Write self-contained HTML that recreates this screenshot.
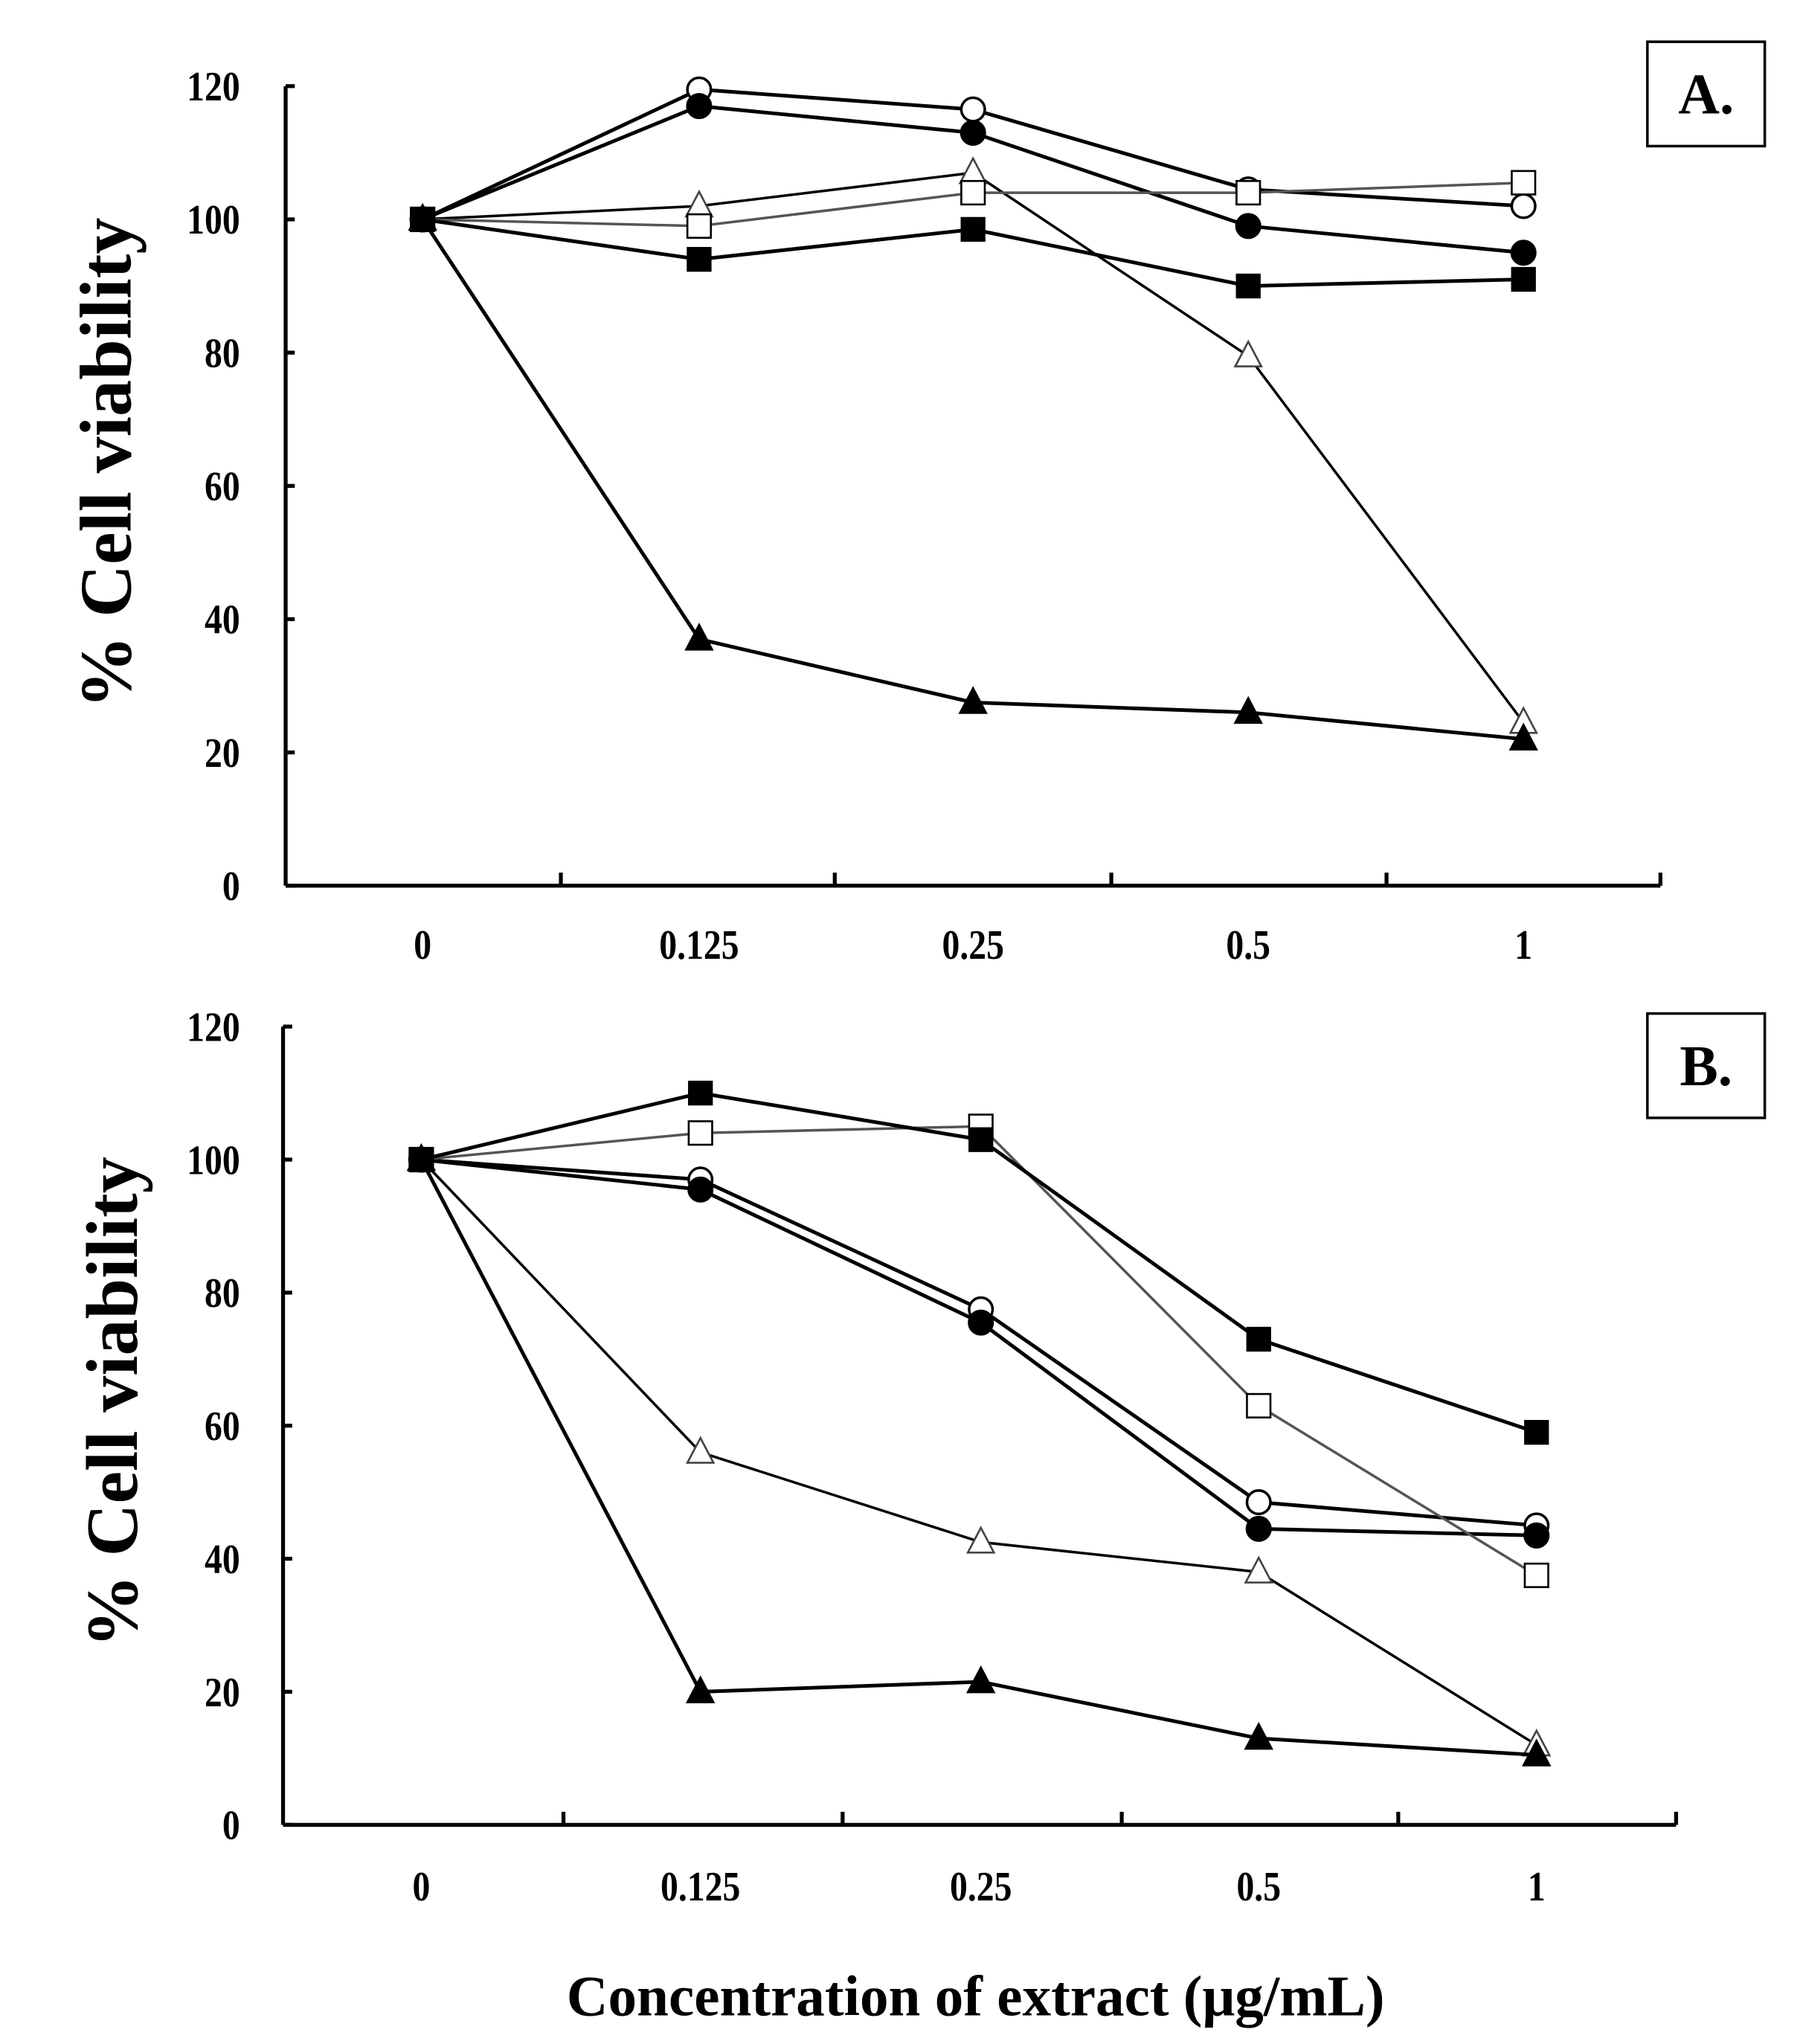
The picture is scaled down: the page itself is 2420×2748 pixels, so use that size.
<!DOCTYPE html>
<html><head><meta charset="utf-8"><style>
html,body{margin:0;padding:0;background:#fff}
svg{display:block}
text{font-family:"Liberation Serif",serif;font-weight:bold;fill:#000}
</style></head><body>
<svg id="chart" width="2420" height="2748" viewBox="0 0 1380 1567" xmlns="http://www.w3.org/2000/svg"></svg>
<script>
const categories = ["0","0.125","0.25","0.5","1"];
const yTicks = [0,20,40,60,80,100,120];
const seriesNames = ["open-circle","filled-circle","open-triangle","open-square","filled-square","filled-triangle"];
const aOpenCircle = [100,119.5,116.5,104.5,102];
const aFilledCircle = [100,117,113,99,95];
const aOpenTriangle = [100,102,107,79.5,24.5];
const aOpenSquare = [100,99,104,104,105.5];
const aFilledSquare = [100,94,98.5,90,91];
const aFilledTriangle = [100,37,27.5,26,22];
const bOpenCircle = [100,97,77.5,48.5,45];
const bFilledCircle = [100,95.5,75.5,44.5,43.5];
const bOpenTriangle = [100,56,42.5,38,12];
const bOpenSquare = [100,104,105,63,37.5];
const bFilledSquare = [100,110,103,73,59];
const bFilledTriangle = [100,20,21.5,13,10.5];

const NS="http://www.w3.org/2000/svg";
const svg=document.getElementById('chart');
function mk(tag,attrs,parent){const e=document.createElementNS(NS,tag);for(const k in attrs)e.setAttribute(k,attrs[k]);(parent||svg).appendChild(e);return e;}

const panels=[
 {id:'a',label:'A.',x0:219,x1:1273,yTop:66,yBot:679,cats:[324,536,746,957,1168],ticks:[430,640,852,1063,1273],box:[1263,32],titleY:355,titleX:80,labY:735,
  data:[aOpenCircle,aFilledCircle,aOpenTriangle,aOpenSquare,aFilledSquare,aFilledTriangle]},
 {id:'b',label:'B.',x0:217,x1:1285,yTop:787,yBot:1399,cats:[323,537,752,965,1178],ticks:[432,646,860,1072,1285],box:[1263,777],titleY:1075,titleX:85,labY:1457,
  data:[bOpenCircle,bFilledCircle,bOpenTriangle,bOpenSquare,bFilledSquare,bFilledTriangle]}
];

panels.forEach(p=>{
 const g=mk('g',{});
 
 
 const y=v=>p.yBot-(v/120)*(p.yBot-p.yTop);
 const x=i=>p.cats[i];
 const ya=mk('line',{x1:p.x0,y1:p.yTop,x2:p.x0,y2:p.yBot,stroke:'#000','stroke-width':3},g);
 
 
 const xa=mk('line',{x1:p.x0,y1:p.yBot,x2:p.x1,y2:p.yBot,stroke:'#000','stroke-width':3},g);
 
 
 yTicks.forEach(t=>{
  mk('line',{x1:p.x0,y1:y(t),x2:p.x0+7,y2:y(t),stroke:'#000','stroke-width':3},g);
  const tx=mk('text',{x:0,y:0,'text-anchor':'end','font-size':32,transform:`translate(184,${y(t)+11}) scale(0.85,1)`},g);
  tx.textContent=t;
  
  
 });
 p.ticks.forEach(tx=>mk('line',{x1:tx,y1:p.yBot,x2:tx,y2:p.yBot-10,stroke:'#000','stroke-width':3},g));
 categories.forEach((c,i)=>{
  const t=mk('text',{x:0,y:0,'text-anchor':'middle','font-size':32,transform:`translate(${x(i)},${p.labY}) scale(0.85,1)`},g);
  t.textContent=c;
  
  
 });
 const yt=mk('text',{x:0,y:0,'text-anchor':'middle','font-size':56,transform:`translate(${p.titleX+20},${p.titleY}) rotate(-90)`},g);
 yt.textContent='% Cell viability';
 
 
 const bx=mk('rect',{x:p.box[0],y:p.box[1],width:90,height:80,fill:'#fff',stroke:'#000','stroke-width':2},g);
 
 
 const bl=mk('text',{x:p.box[0]+45,y:p.box[1]+55,'text-anchor':'middle','font-size':44},g);
 bl.textContent=p.label;
 
 
 p.data.forEach((vals,si)=>{
  const name=seriesNames[si];
  const sg=mk('g',{},g);
  
  
  const pts=vals.map((v,i)=>x(i)+','+y(v)).join(' ');
  const col=name==='open-square'?'#555':'#000';
  mk('polyline',{points:pts,fill:'none',stroke:col,'stroke-width':name==='open-square'||name==='open-triangle'?2:2.8},sg);
  vals.forEach((v,i)=>{
   const cx=x(i),cy=y(v);let m;
   const open=name.startsWith('open');
   const fill=open?'#fff':'#000';
   if(name.endsWith('circle')) m=mk('circle',{cx,cy,r:9,fill,stroke:'#000','stroke-width':2},sg);
   else if(name.endsWith('square')) m=mk('rect',{x:cx-9,y:cy-9,width:18,height:18,fill,stroke:'#000','stroke-width':open?1.5:1},sg);
   else m=mk('polygon',{points:`${cx},${cy-11} ${cx-10},${cy+8} ${cx+10},${cy+8}`,fill,stroke:open?'#444':'#000','stroke-width':1.5},sg);
   
   
  });
 });
});
const xt=mk('text',{x:748,y:1545,'text-anchor':'middle','font-size':44});
xt.textContent='Concentration of extract (μg/mL)';


</script>
</body></html>
